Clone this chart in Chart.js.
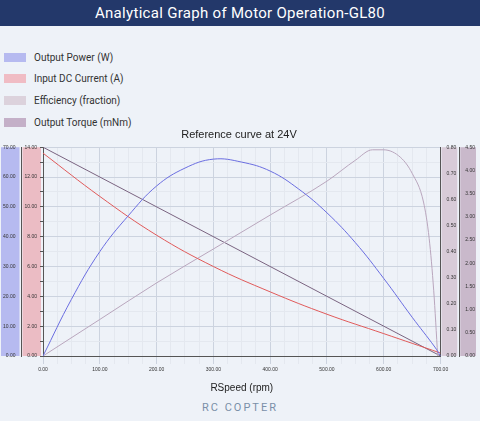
<!DOCTYPE html><html><head><meta charset="utf-8">
<script src="https://cdn.jsdelivr.net/npm/chart.js@4/dist/chart.umd.min.js"></script>
<style>
body{margin:0;width:480px;height:421px;background:#eef2f8;font-family:Roboto,"Noto Sans",sans-serif;overflow:hidden;position:relative}
#hdr{height:26px;background:#23386a;color:#fff;font-size:15px;text-align:center;line-height:26px;letter-spacing:0.3px}
.lg{position:absolute;left:4px;font-size:10px;color:#333;display:flex;align-items:center}
.lg span{display:inline-block;width:22px;height:9px;margin-right:8px}
#wrap{position:absolute;left:0;top:128px;width:480px;height:270px}
#logo{position:absolute;top:401px;width:480px;text-align:center;font-size:11px;color:#7a8fa8;letter-spacing:2px}
</style></head><body>
<div id="hdr">Analytical Graph of Motor Operation-GL80</div>
<div class="lg" style="top:52px"><span style="background:#b6baf0"></span>Output Power (W)</div>
<div class="lg" style="top:73px"><span style="background:#f0bcc4"></span>Input DC Current (A)</div>
<div class="lg" style="top:95px"><span style="background:#dcd2dc"></span>Efficiency (fraction)</div>
<div class="lg" style="top:117px"><span style="background:#c4b0c8"></span>Output Torque (mNm)</div>
<div id="wrap"><canvas id="c" width="480" height="270"></canvas></div>
<div id="logo">RC COPTER</div>
<script>
const speedP=[0,50,100,150,200,250,300,350,400,450,500,550,600,650,690,700];
const power=[0,19,35,47,57,63,66,65,62,56,48,38,26,13,3,0];
const speedI=[0,100,200,300,400,500,600,700];
const current=[13.6,10.7,8.1,6.0,4.3,2.8,1.5,0.2];
const speedE=[0,100,200,300,400,500,550,580,600,630,650,670,680,688,695];
const eff=[0,0.14,0.28,0.41,0.54,0.67,0.75,0.79,0.79,0.76,0.70,0.59,0.45,0.25,0];
const speedT=[0,700];
const torque=[4.5,0];
const xy=(a,b)=>a.map((v,i)=>({x:v,y:b[i]}));
const bands={yP:'#b6baf0',yI:'#ebbcc4',yE:'#d8cbd8',yT:'#c9b9cb'};
const bandPlugin={id:'bands',beforeDraw(c){const ctx=c.ctx;for(const k in bands){const s=c.scales[k];ctx.fillStyle=bands[k];
ctx.fillRect(s.left+1,s.top,s.width-3,s.height);}}};
const fmt=v=>v.toFixed(2);
const tk=(pos,min,max,step,grid)=>({position:pos,min:min,max:max,border:{color:'#555'},grid:{display:grid,color:'#d8dee8',drawTicks:true,tickColor:'#555',tickLength:3},ticks:{stepSize:step,font:{size:5},color:'#333',callback:fmt}});
const yI=tk('left',0,14,1,true);
yI.ticks.callback=v=>v%2===0?v.toFixed(2):'';
yI.grid.color=c=>c.tick&&c.tick.value%2===0?'#ccd3df':'#e4e8ef';
new Chart(document.getElementById('c'),{type:'line',
data:{datasets:[
{data:xy(speedP,power),borderColor:'#6b6ee0',yAxisID:'yP',tension:0.4},
{data:xy(speedI,current),borderColor:'#e05a5a',yAxisID:'yI',tension:0.4},
{data:xy(speedE,eff),borderColor:'#b9a6bd',yAxisID:'yE',cubicInterpolationMode:'monotone'},
{data:xy(speedT,torque),borderColor:'#7a6480',yAxisID:'yT'}]},
options:{responsive:false,animation:false,elements:{point:{radius:0},line:{borderWidth:1}},
layout:{padding:{left:0,right:2,top:0,bottom:0}},
plugins:{legend:{display:false},tooltip:{enabled:false},title:{display:true,text:'Reference curve at 24V',font:{size:11,weight:'normal'},color:'#222',padding:{top:0,bottom:6}}},
scales:{
x:{type:'linear',min:0,max:700,border:{color:'#555'},grid:{color:c=>c.tick&&c.tick.value%100===0?'#ccd3df':'#e4e8ef'},ticks:{stepSize:25,autoSkip:false,maxRotation:0,minRotation:0,font:{size:5},color:'#333',callback:v=>v%100===0?v.toFixed(2):''},title:{display:true,text:'RSpeed (rpm)',font:{size:10},color:'#222',padding:{top:6}}},
yI:yI,
yP:tk('left',0,70,10,false),
yE:tk('right',0,0.8,0.1,false),
yT:tk('right',0,4.5,0.5,false)}},
plugins:[bandPlugin]});
</script></body></html>
